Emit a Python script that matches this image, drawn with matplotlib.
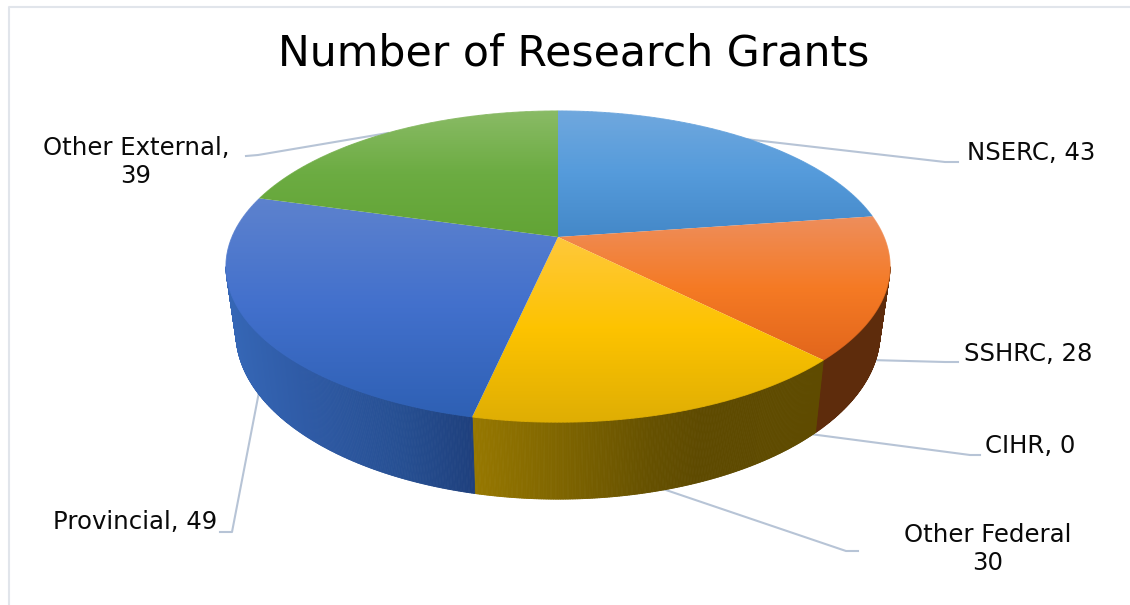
import numpy as np
import matplotlib
matplotlib.use("Agg")
import matplotlib.pyplot as plt
from matplotlib.collections import LineCollection, PolyCollection
from matplotlib.colors import LinearSegmentedColormap, to_rgb
from matplotlib.patches import Polygon

# data, clockwise from 12 o'clock
names = ["NSERC", "SSHRC", "CIHR", "Other Federal", "Provincial", "Other External"]
grants = [43, 28, 0, 30, 49, 39]
labels = ["NSERC, 43", "SSHRC, 28", "CIHR, 0", "Other Federal\n30", "Provincial, 49", "Other External,\n39"]
title = "Number of Research Grants"

# top face colours: far edge, middle, near edge of each slice
face_colors = [
    ["#70A8DE", "#559BDB", "#4488C8"],
    ["#EE8E5C", "#F57A24", "#E2661C"],
    ["#FFC000", "#FFC000", "#FFC000"],
    ["#FFC83C", "#FDC300", "#DFAE04"],
    ["#5D82CE", "#4270CC", "#2E60B4"],
    ["#8ABB66", "#6CAC42", "#62A435"],
]
# side wall colours by pixel x
wall_stops = [
    [(800, "#5E2C0C"), (900, "#5E2C0C")],
    [(800, "#5E2C0C"), (900, "#5E2C0C")],
    [(800, "#5F4B00"), (900, "#5F4B00")],
    [(472, "#977800"), (560, "#7F6500"), (650, "#665100"), (700, "#5E4A00"), (820, "#5F4B00")],
    [(230, "#3566B5"), (300, "#2F5BA6"), (400, "#264F92"), (475, "#1E3F7C")],
    [(230, "#3566B5"), (475, "#1E3F7C")],
]

# leader lines: from behind the pie, to the elbow, to the label
leaders = [
    [(745, 139), (945, 162), (958, 162)],
    [(870, 360), (945, 362), (958, 362)],
    [(810, 434), (970, 455), (980, 455)],
    [(660, 488), (846, 551), (858, 551)],
    [(259, 392), (232, 532), (220, 532)],
    [(388, 133), (258, 155), (246, 156)],
]
label_pos = [(1031, 153), (1028, 354), (1030, 446), (988, 549), (135, 522), (136, 162)]

CX, CY = 558, 237
A, B, K = 326, 150, 0.19
WALL_SCALE_X, WALL_SCALE_Y, WALL_DROP = 0.97, 1.07, 64
LEADER_COLOR = "#B7C4D6"
BORDER_COLOR = "#E1E5EB"


def top_xy(theta):
    # tilted disc with some perspective, theta clockwise from the far point
    u, v = np.sin(theta), np.cos(theta)
    d = 1 + K * v
    return CX + A * u / d, CY - B * v / d


def bottom_xy(theta):
    x, y = top_xy(theta)
    return CX + WALL_SCALE_X * (x - CX), CY + WALL_DROP + WALL_SCALE_Y * (y - CY)


fig = plt.figure(figsize=(11.3, 6.05), dpi=100)
ax = fig.add_axes([0, 0, 1, 1])

edges = np.radians(np.cumsum([0] + grants) / sum(grants) * 360)

# leader lines go under the pie
for pts in leaders:
    xs, ys = zip(*pts)
    ax.plot(xs, ys, color=LEADER_COLOR, lw=1.5, zorder=1, solid_joinstyle="round")

# side walls, only the part facing us
for i in range(len(grants)):
    start = max(edges[i], np.radians(101))
    end = min(edges[i + 1], np.radians(259))
    if end <= start:
        continue
    t = np.linspace(start, end, int(np.degrees(end - start) * 4) + 2)
    xt, yt = top_xy(t)
    xb, yb = bottom_xy(t)
    quads = [[(xt[j], yt[j]), (xt[j + 1], yt[j + 1]), (xb[j + 1], yb[j + 1]), (xb[j], yb[j])]
             for j in range(len(t) - 1)]
    px = [s[0] for s in wall_stops[i]]
    rgb = np.array([to_rgb(s[1]) for s in wall_stops[i]])
    mid = (xt[:-1] + xt[1:]) / 2
    cols = np.column_stack([np.interp(mid, px, rgb[:, c]) for c in range(3)])
    ax.add_collection(PolyCollection(quads, facecolors=cols, edgecolors=cols, linewidths=0.6, zorder=2))

# top face, each slice has its own vertical gradient
for i in range(len(grants)):
    if grants[i] == 0:
        continue
    t = np.linspace(edges[i], edges[i + 1], 300)
    x, y = top_xy(t)
    px = np.r_[CX, x]
    py = np.r_[CY, y]
    cmap = LinearSegmentedColormap.from_list(names[i], face_colors[i])
    grad = np.linspace(0, 1, 256).reshape(-1, 1)
    im = ax.imshow(grad, cmap=cmap, aspect="auto", origin="upper", zorder=3,
                   extent=(px.min(), px.max(), py.max(), py.min()), interpolation="bilinear")
    im.set_clip_path(Polygon(np.column_stack([px, py]), closed=True, transform=ax.transData))
    # image clipping leaves a jagged rim, a thin line in the same colours hides it
    segs = [[(x[j], y[j]), (x[j + 1], y[j + 1])] for j in range(len(x) - 1)]
    frac = ((y[:-1] + y[1:]) / 2 - py.min()) / (py.max() - py.min())
    ax.add_collection(LineCollection(segs, colors=cmap(frac), linewidths=0.7, zorder=3.5))

# the thin frame of the chart area
ax.plot([9, 9, 1130], [605, 7, 7], color=BORDER_COLOR, lw=1.5, zorder=1)

ax.text(574, 54, title, fontsize=30.7, ha="center", va="center", color="black")
for lab, (lx, ly) in zip(labels, label_pos):
    ax.text(lx, ly, lab, fontsize=17.6, ha="center", va="center", color="#0A0A0A", multialignment="center")

ax.set_xlim(0, 1130)
ax.set_ylim(605, 0)
ax.axis("off")

fig.savefig("out.png", dpi=100, facecolor="white")
